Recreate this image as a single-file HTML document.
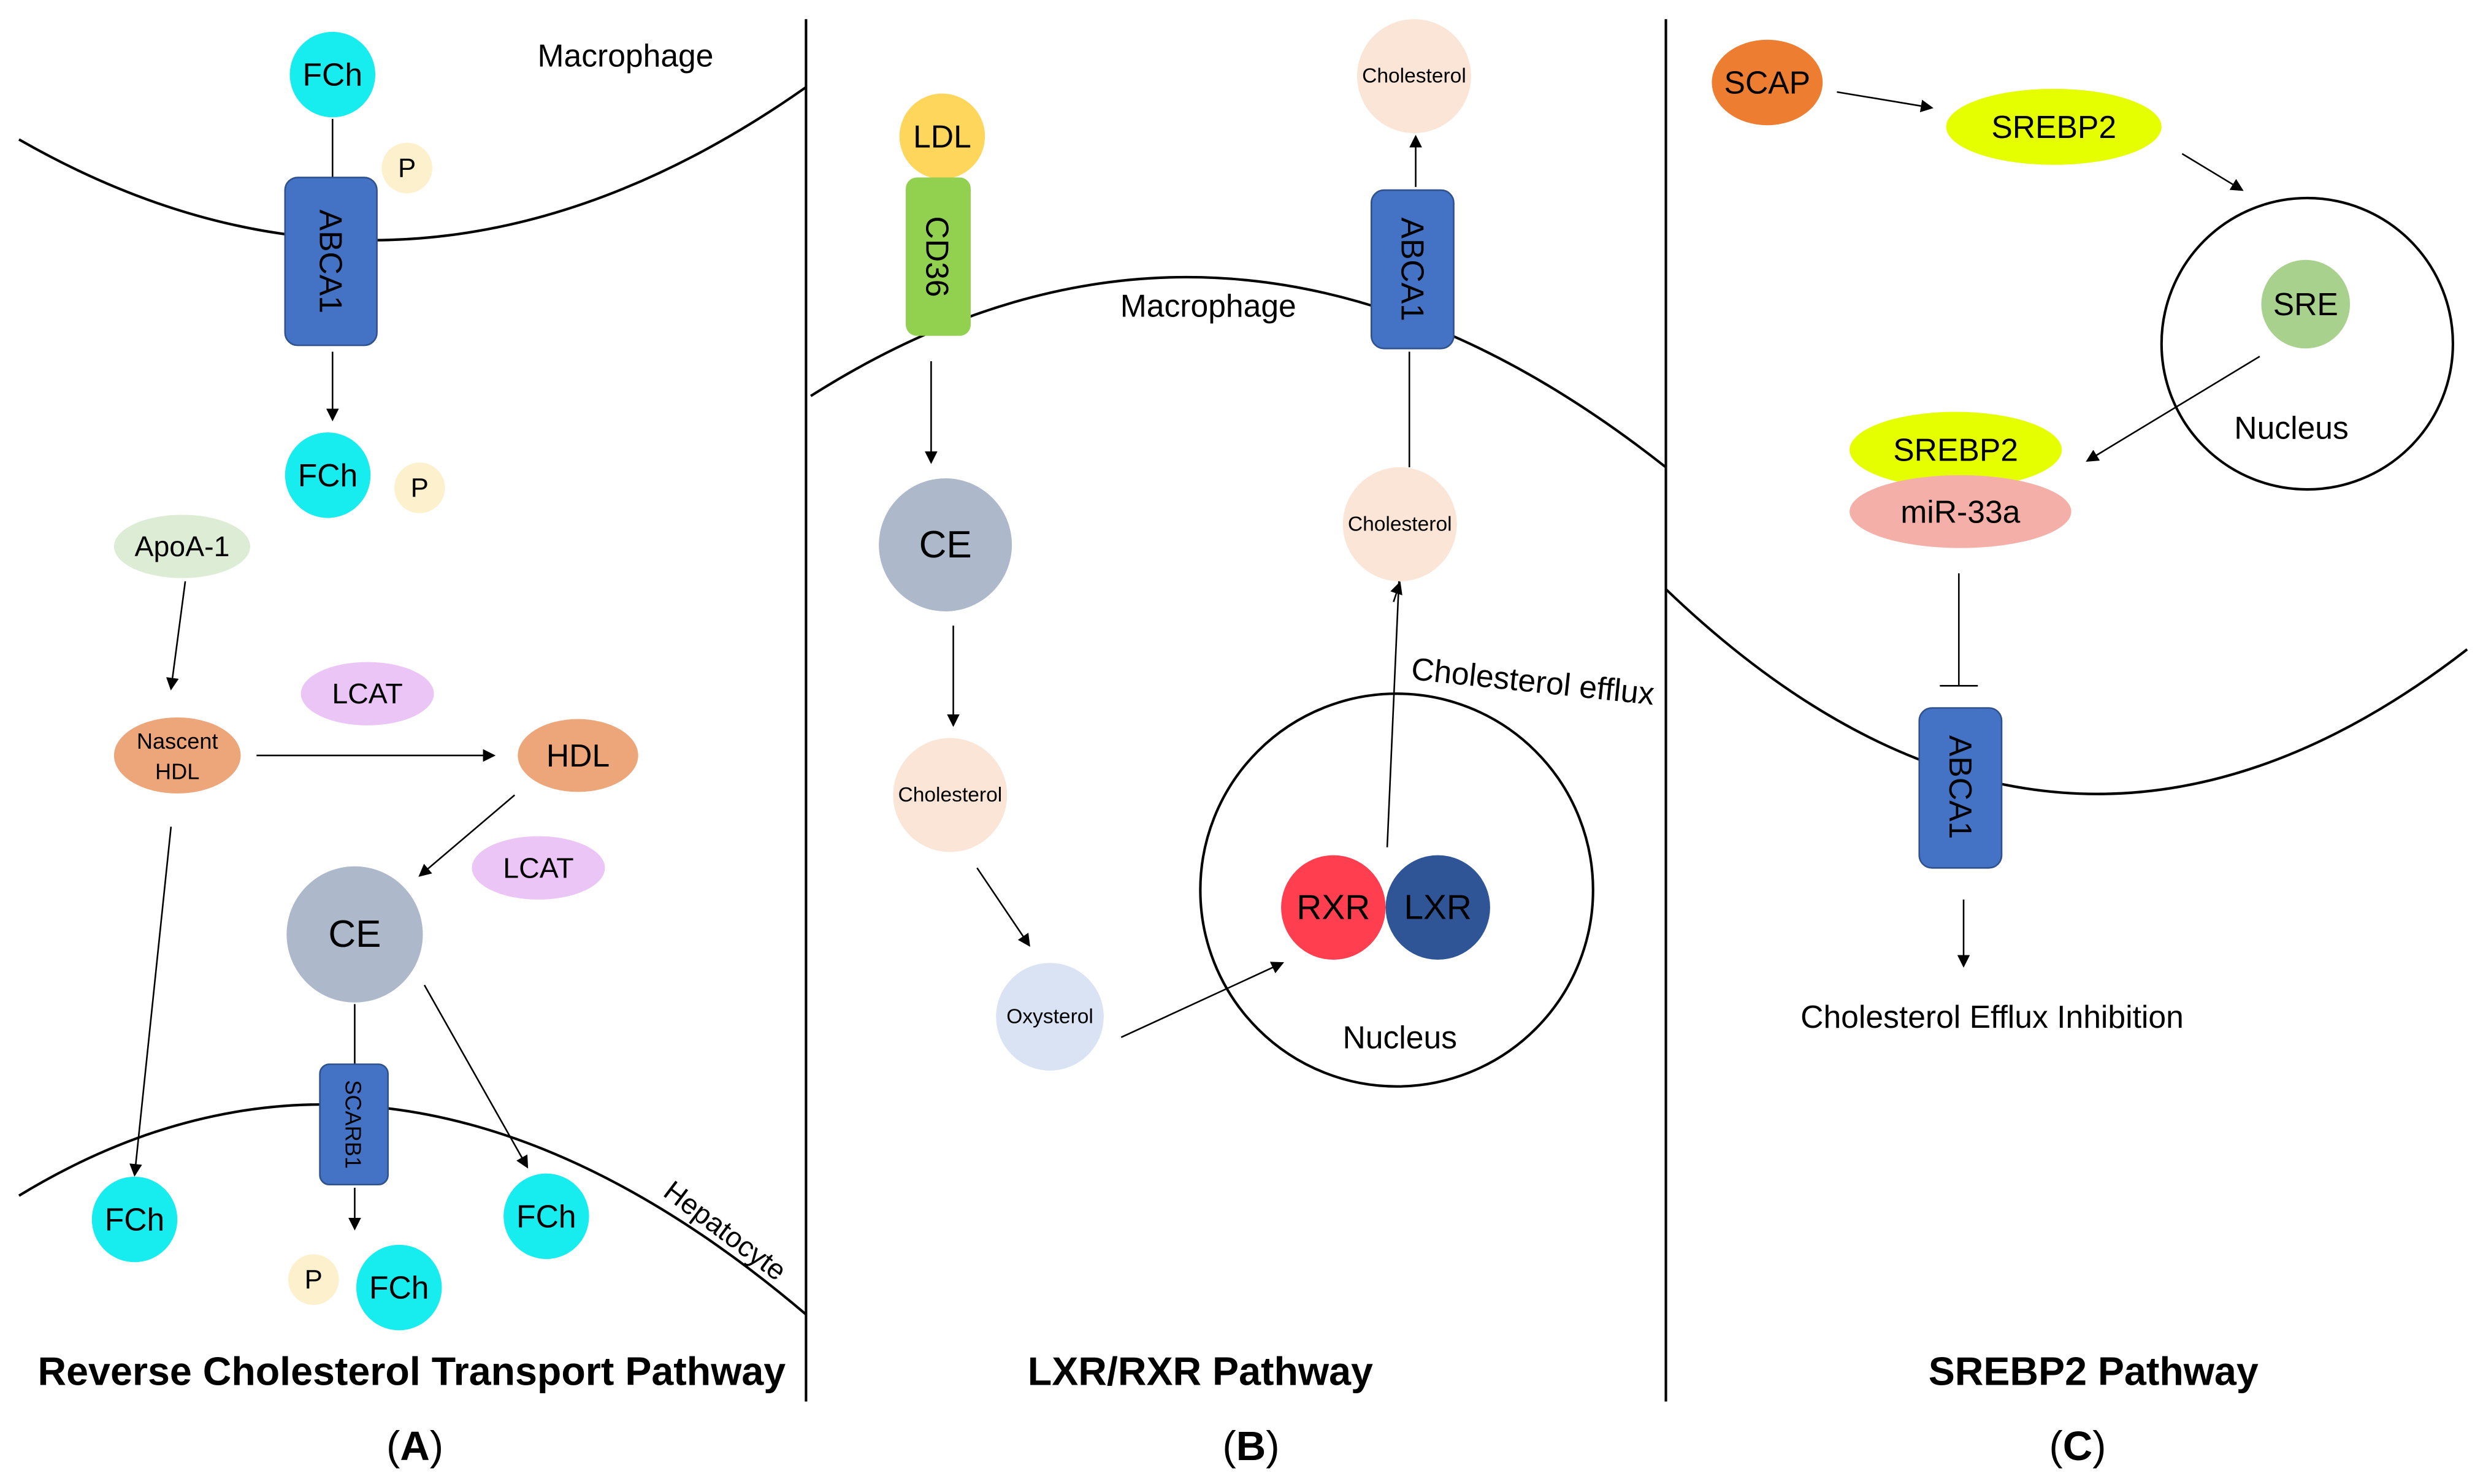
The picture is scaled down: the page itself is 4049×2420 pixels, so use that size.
<!DOCTYPE html>
<html><head><meta charset="utf-8"><style>
html,body{margin:0;padding:0;background:#fff;}
svg{display:block;}
text{font-family:"Liberation Sans",sans-serif;fill:#000;}
</style></head><body>
<svg width="4049" height="2420" viewBox="0 0 1568 937" xmlns="http://www.w3.org/2000/svg">
<defs>
<marker id="ar" markerWidth="8" markerHeight="8" refX="7" refY="4" orient="auto" markerUnits="userSpaceOnUse">
<path d="M0,0 L8,4 L0,8 z" fill="#000"/></marker>
</defs>
<rect width="1568" height="937" fill="#fff"/>
<g stroke="#000" stroke-width="1.6" fill="none">
<line x1="509" y1="12" x2="509" y2="885"/>
<line x1="1052" y1="12" x2="1052" y2="885"/>
<path d="M12,88 Q260,230 509,55"/>
<path d="M12,755 Q250,610 509,830"/>
<path d="M512,250 Q780,80 1052,295"/>
<path d="M1052,372 Q1300,610 1558,410"/>
<circle cx="882" cy="562" r="124"/>
<circle cx="1457" cy="217" r="92"/>
</g>
<g stroke="#000" stroke-width="1" fill="none">
<line x1="210" y1="75" x2="210" y2="118"/>
<line x1="210" y1="222" x2="210" y2="265" marker-end="url(#ar)"/>
<line x1="117" y1="367" x2="108" y2="435" marker-end="url(#ar)"/>
<line x1="162" y1="477" x2="312" y2="477" marker-end="url(#ar)"/>
<line x1="325" y1="502" x2="265" y2="553" marker-end="url(#ar)"/>
<line x1="108" y1="522" x2="85" y2="742" marker-end="url(#ar)"/>
<line x1="268" y1="622" x2="333" y2="737" marker-end="url(#ar)"/>
<line x1="224" y1="634" x2="224" y2="672"/>
<line x1="224" y1="750" x2="224" y2="776" marker-end="url(#ar)"/>
<line x1="588" y1="228" x2="588" y2="292" marker-end="url(#ar)"/>
<line x1="602" y1="395" x2="602" y2="458" marker-end="url(#ar)"/>
<line x1="617" y1="548" x2="650" y2="597" marker-end="url(#ar)"/>
<line x1="708" y1="655" x2="810" y2="608" marker-end="url(#ar)"/>
<line x1="876" y1="535" x2="884" y2="354" marker-end="url(#ar)"/>
<line x1="890" y1="295" x2="890" y2="222"/>
<line x1="894" y1="118" x2="894" y2="86" marker-end="url(#ar)"/>
<line x1="1160" y1="58" x2="1220" y2="68" marker-end="url(#ar)"/>
<line x1="1378" y1="97" x2="1416" y2="120" marker-end="url(#ar)"/>
<line x1="1427" y1="225" x2="1318" y2="291" marker-end="url(#ar)"/>
<line x1="1237" y1="362" x2="1237" y2="433"/>
<line x1="1225" y1="433" x2="1249" y2="433"/>
<line x1="1240" y1="568" x2="1240" y2="610" marker-end="url(#ar)"/>
</g>
<g fill="#17ecee">
<circle cx="210" cy="47" r="27"/><circle cx="207" cy="300" r="27"/>
<circle cx="85" cy="770" r="27"/><circle cx="345" cy="768" r="27"/><circle cx="252" cy="813" r="27"/>
</g>
<g fill="#fdf0cc"><circle cx="257" cy="106" r="16"/><circle cx="265" cy="308" r="16"/><circle cx="198" cy="808" r="16"/></g>
<g fill="#4472c4" stroke="#2f528f" stroke-width="1">
<rect x="180" y="112" width="58" height="106" rx="8"/>
<rect x="202" y="672" width="43" height="76" rx="6"/>
<rect x="866" y="120" width="52" height="100" rx="8"/>
<rect x="1212" y="447" width="52" height="101" rx="8"/>
</g>
<ellipse cx="115" cy="345" rx="43" ry="20" fill="#dcecd5"/>
<ellipse cx="112" cy="477" rx="40" ry="24" fill="#eda57a"/>
<ellipse cx="365" cy="477" rx="38" ry="23" fill="#eda57a"/>
<ellipse cx="232" cy="438" rx="42" ry="20" fill="#eac5f5"/>
<ellipse cx="340" cy="548" rx="42" ry="20" fill="#eac5f5"/>
<circle cx="224" cy="590" r="43" fill="#adb9ca"/>
<circle cx="595" cy="86" r="27" fill="#ffd65c"/>
<rect x="572" y="112" width="41" height="100" rx="7" fill="#92d050"/>
<circle cx="597" cy="344" r="42" fill="#adb9ca"/>
<circle cx="600" cy="502" r="36" fill="#fbe5d6"/>
<circle cx="663" cy="642" r="34" fill="#dae3f3"/>
<circle cx="884" cy="331" r="36" fill="#fbe5d6"/>
<circle cx="893" cy="48" r="36" fill="#fbe5d6"/>
<circle cx="842" cy="573" r="33" fill="#ff3e50"/>
<circle cx="908" cy="573" r="33" fill="#2f5597"/>
<ellipse cx="1116" cy="52" rx="35" ry="27" fill="#ed7d31"/>
<ellipse cx="1297" cy="80" rx="68" ry="24" fill="#e5ff00"/>
<circle cx="1456" cy="192" r="28" fill="#a9d18e"/>
<ellipse cx="1235" cy="284" rx="67" ry="24" fill="#e5ff00"/>
<ellipse cx="1238" cy="323" rx="70" ry="23" fill="#f4b0a8"/>
<line x1="880" y1="380" x2="884" y2="368" stroke="#000" stroke-width="1" marker-end="url(#ar)"/>
<g font-size="20" text-anchor="middle" dominant-baseline="central">
<text x="210" y="47">FCh</text><text x="207" y="300">FCh</text>
<text x="85" y="770">FCh</text><text x="345" y="768">FCh</text><text x="252" y="813">FCh</text>
<text x="257" y="106" font-size="17">P</text><text x="265" y="308" font-size="17">P</text><text x="198" y="808" font-size="17">P</text>
<text transform="translate(209,165) rotate(90)">ABCA1</text>
<text transform="translate(223,710) rotate(90)" font-size="14">SCARB1</text>
<text transform="translate(892,170) rotate(90)">ABCA1</text>
<text transform="translate(1238,497) rotate(90)">ABCA1</text>
<text transform="translate(592,162) rotate(90)">CD36</text>
<text x="115" y="345" font-size="18">ApoA-1</text>
<text x="112" y="468" font-size="14">Nascent</text><text x="112" y="487" font-size="14">HDL</text>
<text x="365" y="477">HDL</text>
<text x="232" y="438" font-size="18">LCAT</text><text x="340" y="548" font-size="18">LCAT</text>
<text x="224" y="590" font-size="24">CE</text>
<text x="395" y="35">Macrophage</text>
<text transform="translate(458,777) rotate(37)" font-size="18">Hepatocyte</text>
<text x="595" y="86">LDL</text>
<text x="597" y="344" font-size="24">CE</text>
<text x="600" y="502" font-size="13">Cholesterol</text>
<text x="663" y="642" font-size="13">Oxysterol</text>
<text x="884" y="331" font-size="13">Cholesterol</text>
<text x="893" y="48" font-size="13">Cholesterol</text>
<text x="842" y="573" font-size="22">RXR</text>
<text x="908" y="573" font-size="22">LXR</text>
<text x="884" y="655">Nucleus</text>
<text x="763" y="193">Macrophage</text>
<text transform="translate(968,430) rotate(6)">Cholesterol efflux</text>
<text x="1116" y="52">SCAP</text>
<text x="1297" y="80">SREBP2</text>
<text x="1456" y="192">SRE</text>
<text x="1447" y="270">Nucleus</text>
<text x="1235" y="284">SREBP2</text>
<text x="1238" y="323">miR-33a</text>
<text x="1258" y="642">Cholesterol Efflux Inhibition</text>
<text x="260" y="866" font-size="25" font-weight="bold">Reverse Cholesterol Transport Pathway</text>
<text x="758" y="866" font-size="25" font-weight="bold">LXR/RXR Pathway</text>
<text x="1322" y="866" font-size="25" font-weight="bold">SREBP2 Pathway</text>
<text x="262" y="913" font-size="26" font-family="Liberation Serif, serif">(<tspan font-weight="bold">A</tspan>)</text>
<text x="790" y="913" font-size="26" font-family="Liberation Serif, serif">(<tspan font-weight="bold">B</tspan>)</text>
<text x="1312" y="913" font-size="26" font-family="Liberation Serif, serif">(<tspan font-weight="bold">C</tspan>)</text>
</g>
</svg>
</body></html>
